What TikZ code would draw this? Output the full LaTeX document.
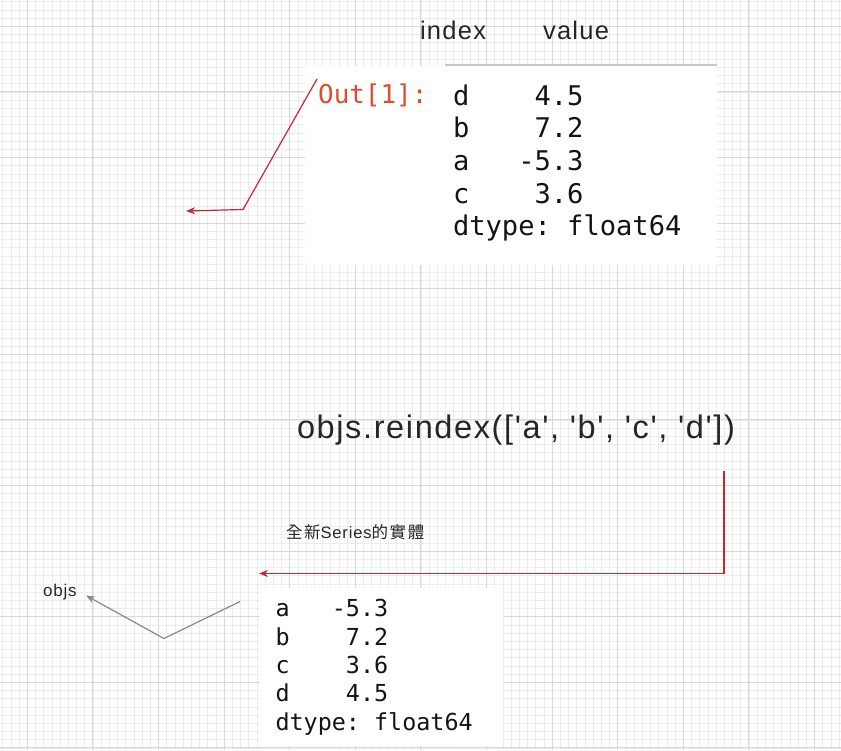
\documentclass[tikz,border=0pt]{standalone}
\usepackage{fontspec}
\usetikzlibrary{arrows.meta}
\newfontfamily\lsans[LetterSpace=5]{Liberation Sans}
\newfontfamily\cjkfont[LetterSpace=10]{Noto Sans CJK TC}
\newfontfamily\monofont{DejaVu Sans Mono}
\definecolor{gridminor}{RGB}{236,236,236}
\definecolor{gridmajor}{RGB}{216,216,216}
\definecolor{txtgray}{RGB}{38,38,38}
\definecolor{outred}{RGB}{216,80,45}
\definecolor{linered}{RGB}{206,36,48}
\definecolor{linegray}{RGB}{136,136,136}
\tikzset{
  minorline/.style={draw=gridminor, line width=0.8pt},
  majorline/.style={draw=gridmajor, line width=1pt},
  whitebox/.style={fill=white, draw=none},
  lbl/.style={anchor=base west, inner sep=0pt, outer sep=0pt, text=txtgray},
  monotop/.style={anchor=base west, inner sep=0pt, outer sep=0pt, text=black!92, font=\monofont\fontsize{27.1}{32}\selectfont},
  monobot/.style={anchor=base west, inner sep=0pt, outer sep=0pt, text=black!92, font=\monofont\fontsize{23.4}{28}\selectfont},
  redarrow/.style={draw=linered, line width=1.2pt, -{Stealth[length=9pt,width=7pt]}},
  grayarrow/.style={draw=linegray, line width=1.2pt, -{Stealth[length=9pt,width=7pt]}}
}
\begin{document}
\begin{tikzpicture}[x=1pt,y=-1pt]
\useasboundingbox (0,0) rectangle (841,750);
\fill[white] (0,0) rectangle (841,750);
% grid
\foreach \i in {0,...,103} {
  \draw[minorline] ({2.7+8.2*\i},0) -- ({2.7+8.2*\i},750);
}
\foreach \i in {0,...,92} {
  \draw[minorline] (0,{1.7+8.2*\i}) -- (841,{1.7+8.2*\i});
}
\foreach \i in {0,...,12} {
  \draw[majorline] ({27.3+65.6*\i},0) -- ({27.3+65.6*\i},750);
}
\foreach \i in {0,...,11} {
  \draw[majorline] (0,{26.3+65.6*\i}) -- (841,{26.3+65.6*\i});
}
% white output boxes
\fill[whitebox] (305,66) rectangle (717,265);
\draw[draw=black!22, line width=1.6pt] (445,64.8) -- (717,64.8);
\fill[whitebox] (260,588) rectangle (503,746);

% header labels
\node[lbl, font=\lsans\fontsize{25.5}{30}\selectfont] (idx) at (420,39) {index};
\node[lbl, font=\lsans\fontsize{25.5}{30}\selectfont] (val) at (543,39) {value};

% top output
\node[anchor=base west, inner sep=0pt, text=outred, font=\monofont\fontsize{25.9}{30}\selectfont] (out) at (318,103.3) {Out[1]:};
\node[monotop] (t1) at (453,105) {d\ \ \ \ 4.5};
\node[monotop] (t2) at (453,137.7) {b\ \ \ \ 7.2};
\node[monotop] (t3) at (453,170.4) {a\ \ \ -5.3};
\node[monotop] (t4) at (453,203) {c\ \ \ \ 3.6};
\node[monotop] (t5) at (453,235.7) {dtype:\ float64};

% call
\node[lbl, font=\lsans\fontsize{32.5}{38}\selectfont] (call) at (297,438.3) {objs.reindex(['a', 'b', 'c', 'd'])};

% new series label
\node[lbl, font=\fontsize{16.5}{20}\selectfont] (newlbl) at (286,538.5) {{\cjkfont 全新}{\lsans Series}{\cjkfont 的實體}};

% objs label
\node[lbl, font=\lsans\fontsize{17}{20}\selectfont] (objs) at (43,596.5) {objs};

% bottom output
\node[monobot] (b1) at (275.5,616.7) {a\ \ \ -5.3};
\node[monobot] (b2) at (275.5,645) {b\ \ \ \ 7.2};
\node[monobot] (b3) at (275.5,673.4) {c\ \ \ \ 3.6};
\node[monobot] (b4) at (275.5,701.7) {d\ \ \ \ 4.5};
\node[monobot] (b5) at (275.5,730) {dtype:\ float64};

% connectors
\coordinate (r1s) at (317,79);
\coordinate (r1m) at (243,209.5);
\coordinate (r1e) at (186,211);
\draw[redarrow] (r1s) -- (r1m) -- (r1e);

\coordinate (r2s) at (724,471);
\coordinate (r2m) at (724,573.5);
\coordinate (r2e) at (259,573.5);
\draw[redarrow] (r2s) -- (r2m) -- (r2e);

\coordinate (g1s) at (240,601.5);
\coordinate (g1m) at (164,638.5);
\coordinate (g1e) at (86,595.5);
\draw[grayarrow] (g1s) -- (g1m) -- (g1e);
\end{tikzpicture}
\end{document}
